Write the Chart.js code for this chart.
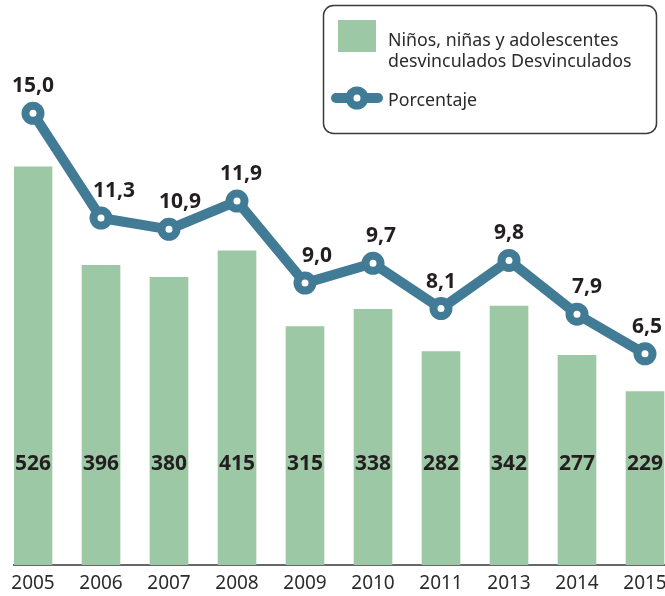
<!DOCTYPE html>
<html lang="es">
<head>
<meta charset="utf-8">
<title>Niños, niñas y adolescentes desvinculados</title>
<script src="https://cdn.jsdelivr.net/npm/chart.js@4/dist/chart.umd.min.js"></script>
<style>
  html, body { margin: 0; padding: 0; background: #ffffff; }
  #wrap { width: 665px; height: 596px; position: relative; overflow: hidden; }
  canvas { display: block; }
</style>
</head>
<body>
<div id="wrap"><canvas id="chart" width="665" height="596"></canvas></div>
<script>
// Años mostrados en el eje horizontal
const years = ['2005', '2006', '2007', '2008', '2009', '2010', '2011', '2013', '2014', '2015'];
// Niños, niñas y adolescentes desvinculados (número de personas)
const desvinculados = [526, 396, 380, 415, 315, 338, 282, 342, 277, 229];
// Porcentaje
const porcentaje = [15.0, 11.3, 10.9, 11.9, 9.0, 9.7, 8.1, 9.8, 7.9, 6.5];

const GREEN = '#9dc8a5';
const TEAL = '#417b95';
const TEXT = '#231f20';
const FONT = '"Noto Sans", "DejaVu Sans", sans-serif';

const fmt = v => v.toFixed(1).replace('.', ',');

// Etiquetas de valor: número dentro de cada barra y porcentaje sobre cada punto
const valueLabels = {
  id: 'valueLabels',
  afterDatasetsDraw(chart, args, opts) {
    const ctx = chart.ctx;
    ctx.save();
    ctx.fillStyle = TEXT;
    ctx.textAlign = 'center';
    ctx.textBaseline = 'middle';
    ctx.font = 'bold 21px ' + FONT;

    const barMeta = chart.getDatasetMeta(1);
    barMeta.data.forEach((bar, i) => {
      ctx.fillText(String(desvinculados[i]), bar.x, chart.chartArea.bottom - opts.barLabelLift);
    });

    const lineMeta = chart.getDatasetMeta(0);
    lineMeta.data.forEach((pt, i) => {
      ctx.fillText(fmt(porcentaje[i]), pt.x + opts.pctShift[i], pt.y - opts.pctLift);
    });
    ctx.restore();
  }
};

// Leyenda en recuadro redondeado, arriba a la derecha
const boxLegend = {
  id: 'boxLegend',
  afterDraw(chart) {
    const ctx = chart.ctx;
    ctx.save();
    // recuadro
    const bx = 323.5, by = 5.5, bw = 333, bh = 128, r = 10;
    ctx.beginPath();
    ctx.roundRect(bx, by, bw, bh, r);
    ctx.lineWidth = 1.5;
    ctx.strokeStyle = '#3a3a3a';
    ctx.stroke();

    // muestra de las barras
    ctx.fillStyle = GREEN;
    ctx.fillRect(338, 20, 38, 32);

    // muestra de la línea
    ctx.beginPath();
    ctx.moveTo(336, 98);
    ctx.lineTo(378, 98);
    ctx.lineWidth = 10;
    ctx.lineCap = 'round';
    ctx.strokeStyle = TEAL;
    ctx.stroke();
    ctx.beginPath();
    ctx.arc(357, 98, 7.5, 0, Math.PI * 2);
    ctx.fillStyle = '#ffffff';
    ctx.fill();
    ctx.lineWidth = 8;
    ctx.stroke();

    // textos
    ctx.fillStyle = '#2b2b2b';
    ctx.font = '17.8px ' + FONT;
    ctx.textAlign = 'left';
    ctx.textBaseline = 'alphabetic';
    ctx.fillText('Niños, niñas y adolescentes', 388, 46);
    ctx.fillText('desvinculados Desvinculados', 388, 67);
    ctx.fillText('Porcentaje', 388, 106);
    ctx.restore();
  }
};

new Chart(document.getElementById('chart'), {
  type: 'bar',
  data: {
    datasets: [
      {
        type: 'line',
        label: 'Porcentaje',
        data: porcentaje.map((v, i) => ({ x: i, y: v })),
        yAxisID: 'y2',
        borderColor: TEAL,
        borderWidth: 10,
        borderJoinStyle: 'round',
        tension: 0,
        pointRadius: 7.5,
        pointBorderWidth: 8,
        pointBackgroundColor: '#ffffff',
        pointBorderColor: TEAL,
        clip: false,
        order: 0
      },
      {
        type: 'bar',
        label: 'Niños, niñas y adolescentes desvinculados Desvinculados',
        data: desvinculados.map((v, i) => ({ x: i, y: v })),
        yAxisID: 'y',
        backgroundColor: GREEN,
        barThickness: 38,
        order: 1
      }
    ]
  },
  options: {
    responsive: false,
    animation: false,
    events: [],
    layout: { autoPadding: false, padding: { left: 14, right: 0, top: 0, bottom: 0 } },
    plugins: {
      legend: { display: false },
      tooltip: { enabled: false },
      valueLabels: {
        barLabelLift: 101,
        pctLift: 27,
        pctShift: [0, 13, 11, 4, 12, 8, 0, 0, 10, 2]
      }
    },
    scales: {
      x: {
        type: 'linear',
        min: -0.2794,
        max: 9.2941,
        offset: false,
        z: 1,
        grid: { display: false, drawTicks: false },
        border: { display: true, color: '#666666', width: 2 },
        ticks: {
          autoSkip: false,
          maxRotation: 0,
          padding: 7,
          color: '#2b2b2b',
          font: { family: FONT, size: 19 },
          callback: v => years[v] ?? ''
        },
        afterBuildTicks: s => { s.ticks = years.map((_, i) => ({ value: i })); },
        afterFit: s => { s.height = 31; s.paddingLeft = 0; s.paddingRight = 0; }
      },
      y: { display: false, min: 0, max: 746.6 },
      y2: { display: false, position: 'right', min: -0.965, max: 19.007 }
    }
  },
  plugins: [valueLabels, boxLegend]
});
</script>
</body>
</html>
